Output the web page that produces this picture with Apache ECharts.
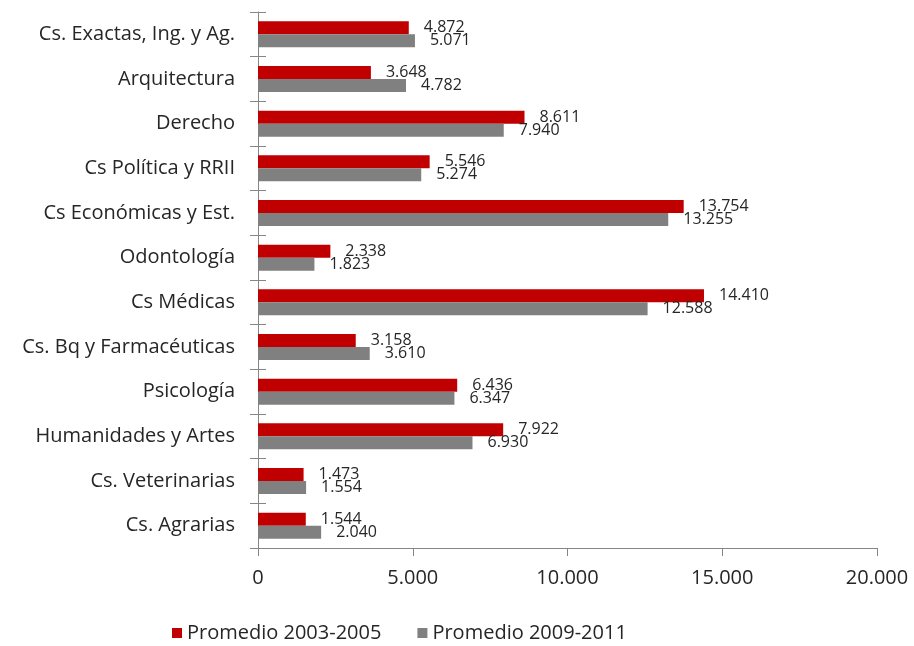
<!DOCTYPE html>
<html>
<head>
<meta charset="utf-8">
<script src="https://cdn.jsdelivr.net/npm/echarts@6/dist/echarts.min.js"></script>
<style>
  html, body { margin: 0; padding: 0; background: #fff; }
  #chart { width: 914px; height: 646px; }
</style>
</head>
<body>
<div id="chart"></div>
<script>
  const categories = [
    "Cs. Exactas, Ing. y Ag.",
    "Arquitectura",
    "Derecho",
    "Cs Política y RRII",
    "Cs Económicas y Est.",
    "Odontología",
    "Cs Médicas",
    "Cs. Bq y Farmacéuticas",
    "Psicología",
    "Humanidades y Artes",
    "Cs. Veterinarias",
    "Cs. Agrarias",
  ];
  const prom2003 = [4872, 3648, 8611, 5546, 13754, 2338, 14410, 3158, 6436, 7922, 1473, 1544];
  const prom2009 = [5071, 4782, 7940, 5274, 13255, 1823, 12588, 3610, 6347, 6930, 1554, 2040];
  const xTicks = [0, 5000, 10000, 15000, 20000];

  // 1234 -> "1.234"
  const fmt = (v) => String(v).replace(/\B(?=(\d{3})+(?!\d))/g, ".");

  const font = "Open Sans";
  const chart = echarts.init(document.getElementById("chart"));
  chart.setOption({
    animation: false,
    textStyle: { fontFamily: font },
    grid: { left: 258, right: 37, top: 12, bottom: 98 },
    legend: {
      bottom: -2,
      left: 167,
      itemWidth: 10,
      itemHeight: 10,
      itemGap: 36,
      icon: "rect",
      textStyle: { fontSize: 20, color: "#262626", fontFamily: font },
      data: ["Promedio 2003-2005", "Promedio 2009-2011"],
    },
    xAxis: {
      type: "value",
      min: xTicks[0],
      max: xTicks[xTicks.length - 1],
      interval: 5000,
      axisLine: { show: true, lineStyle: { color: "#868686" } },
      axisTick: { show: true, length: 8, lineStyle: { color: "#868686" } },
      splitLine: { show: false },
      axisLabel: {
        fontSize: 20,
        color: "#262626",
        margin: 20,
        formatter: (v) => fmt(v),
      },
    },
    yAxis: [
      {
        type: "category",
        data: categories,
        inverse: true,
        axisLine: { show: true, lineStyle: { color: "#868686" } },
        axisTick: { show: true, length: 8, lineStyle: { color: "#868686" } },
        axisLabel: { fontSize: 20, color: "#262626", margin: 23 },
      },
      {
        type: "category",
        data: categories,
        inverse: true,
        position: "left",
        axisLine: { show: false },
        axisTick: { show: true, inside: true, length: 8, lineStyle: { color: "#868686" } },
        axisLabel: { show: false },
      },
    ],
    series: [
      {
        name: "Promedio 2003-2005",
        type: "bar",
        data: prom2003,
        barWidth: 13,
        barGap: "0%",
        itemStyle: { color: "#C00000" },
        label: {
          show: true,
          position: "right",
          distance: 15,
          fontSize: 16,
          color: "#262626",
          formatter: (p) => fmt(p.value),
        },
      },
      {
        name: "Promedio 2009-2011",
        type: "bar",
        data: prom2009,
        barWidth: 13,
        barGap: "0%",
        itemStyle: { color: "#808080" },
        label: {
          show: true,
          position: "right",
          distance: 15,
          fontSize: 16,
          color: "#262626",
          formatter: (p) => fmt(p.value),
        },
      },
    ],
  });
</script>
</body>
</html>
